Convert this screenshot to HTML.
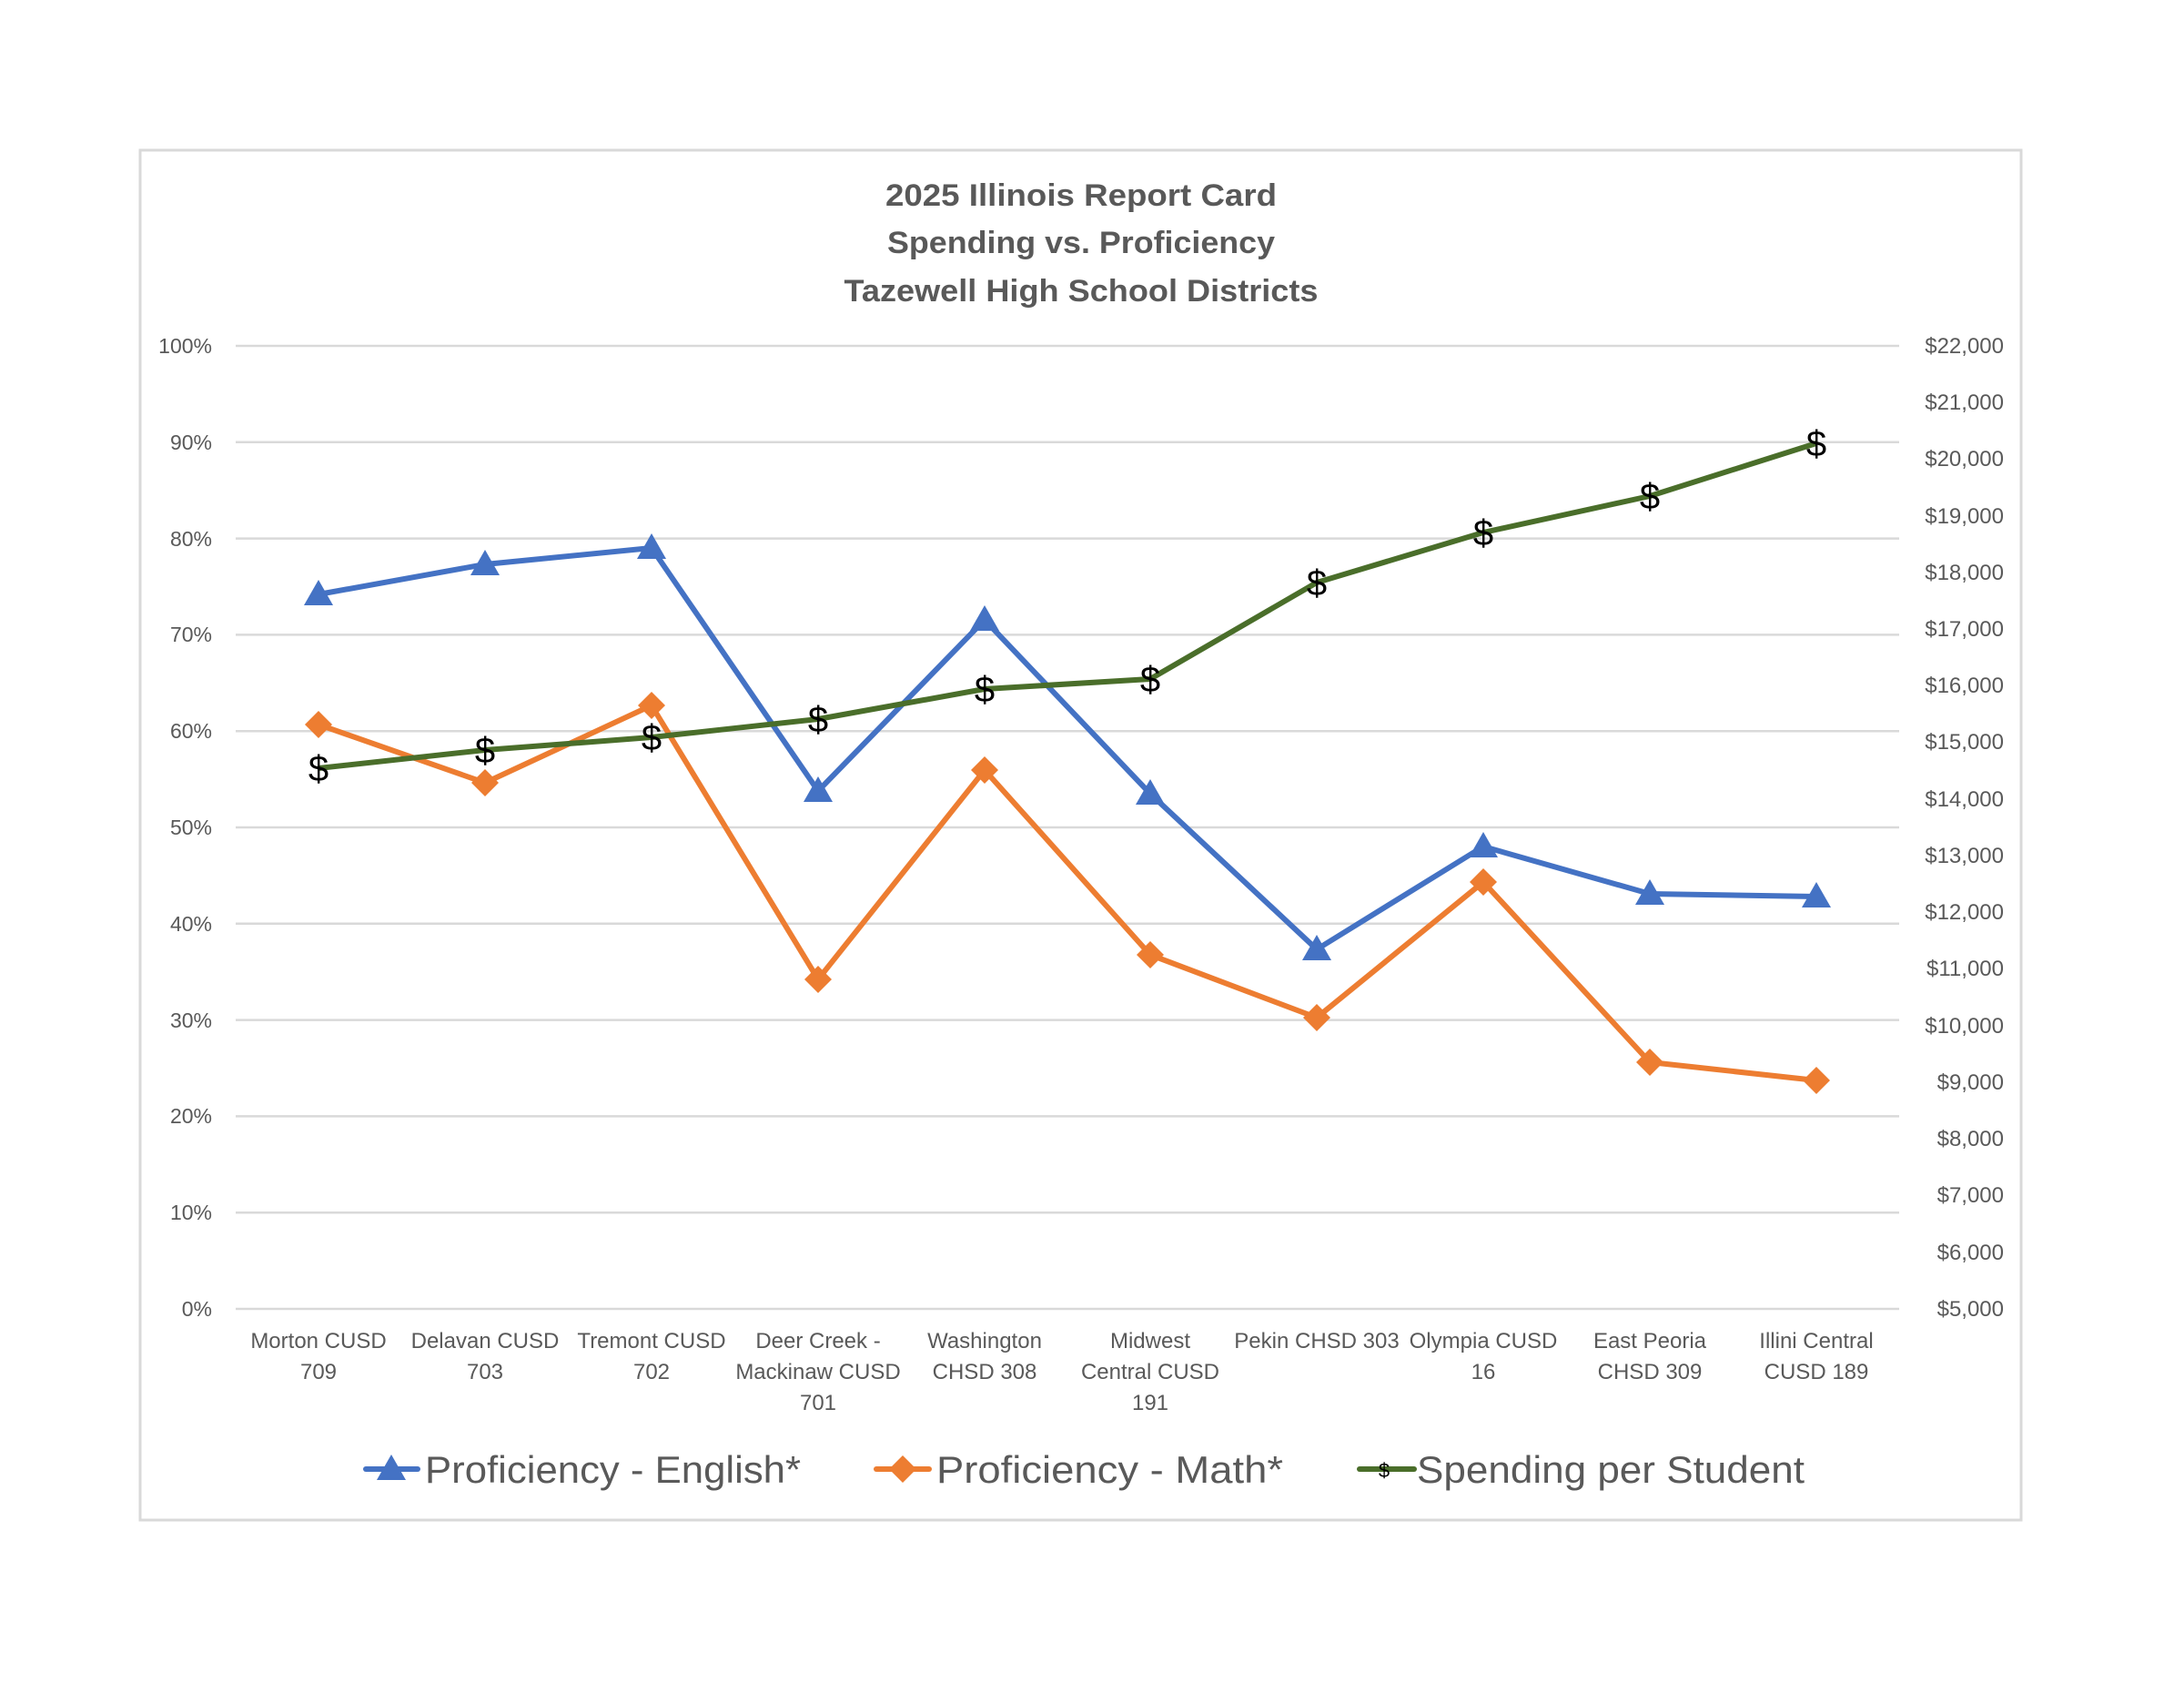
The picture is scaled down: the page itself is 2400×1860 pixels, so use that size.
<!DOCTYPE html>
<html><head><meta charset="utf-8"><style>html,body{margin:0;padding:0;background:#fff}</style></head>
<body>
<svg width="2400" height="1855" viewBox="0 0 2400 1855" xmlns="http://www.w3.org/2000/svg" font-family="'Liberation Sans', sans-serif">
<rect x="0" y="0" width="2400" height="1855" fill="#fff"/>
<rect x="154" y="165" width="2067" height="1505" fill="#fff" stroke="#d9d9d9" stroke-width="3"/>
<g fill="#595959" font-weight="bold" font-size="34" text-anchor="middle">
<text x="1188" y="226" textLength="430" lengthAdjust="spacingAndGlyphs">2025 Illinois Report Card</text>
<text x="1188" y="278" textLength="426" lengthAdjust="spacingAndGlyphs">Spending vs. Proficiency</text>
<text x="1188" y="331" textLength="521" lengthAdjust="spacingAndGlyphs">Tazewell High School Districts</text>
</g>
<g stroke="#d9d9d9" stroke-width="2.5">
<line x1="259" x2="2087" y1="380" y2="380"/><line x1="259" x2="2087" y1="485.8" y2="485.8"/>
<line x1="259" x2="2087" y1="591.6" y2="591.6"/><line x1="259" x2="2087" y1="697.4" y2="697.4"/>
<line x1="259" x2="2087" y1="803.2" y2="803.2"/><line x1="259" x2="2087" y1="909" y2="909"/>
<line x1="259" x2="2087" y1="1014.8" y2="1014.8"/><line x1="259" x2="2087" y1="1120.6" y2="1120.6"/>
<line x1="259" x2="2087" y1="1226.4" y2="1226.4"/><line x1="259" x2="2087" y1="1332.2" y2="1332.2"/>
<line x1="259" x2="2087" y1="1438" y2="1438"/>
</g>
<g fill="#595959" font-size="23" text-anchor="end">
<text x="233" y="388">100%</text><text x="233" y="494">90%</text><text x="233" y="600">80%</text>
<text x="233" y="705">70%</text><text x="233" y="811">60%</text><text x="233" y="917">50%</text>
<text x="233" y="1023">40%</text><text x="233" y="1129">30%</text><text x="233" y="1234">20%</text>
<text x="233" y="1340">10%</text><text x="233" y="1446">0%</text>
</g>
<g fill="#595959" font-size="24" text-anchor="end">
<text x="2202" y="388">$22,000</text><text x="2202" y="450">$21,000</text><text x="2202" y="512">$20,000</text>
<text x="2202" y="575">$19,000</text><text x="2202" y="637">$18,000</text><text x="2202" y="699">$17,000</text>
<text x="2202" y="761">$16,000</text><text x="2202" y="823">$15,000</text><text x="2202" y="886">$14,000</text>
<text x="2202" y="948">$13,000</text><text x="2202" y="1010">$12,000</text><text x="2202" y="1072">$11,000</text>
<text x="2202" y="1135">$10,000</text><text x="2202" y="1197">$9,000</text><text x="2202" y="1259">$8,000</text>
<text x="2202" y="1321">$7,000</text><text x="2202" y="1384">$6,000</text><text x="2202" y="1446">$5,000</text>
</g>
<g fill="#595959" font-size="24" text-anchor="middle">
<text x="350" y="1481">Morton CUSD</text><text x="350" y="1515">709</text>
<text x="533" y="1481">Delavan CUSD</text><text x="533" y="1515">703</text>
<text x="716" y="1481">Tremont CUSD</text><text x="716" y="1515">702</text>
<text x="899" y="1481">Deer Creek -</text><text x="899" y="1515">Mackinaw CUSD</text><text x="899" y="1549">701</text>
<text x="1082" y="1481">Washington</text><text x="1082" y="1515">CHSD 308</text>
<text x="1264" y="1481">Midwest</text><text x="1264" y="1515">Central CUSD</text><text x="1264" y="1549">191</text>
<text x="1447" y="1481">Pekin CHSD 303</text>
<text x="1630" y="1481">Olympia CUSD</text><text x="1630" y="1515">16</text>
<text x="1813" y="1481">East Peoria</text><text x="1813" y="1515">CHSD 309</text>
<text x="1996" y="1481">Illini Central</text><text x="1996" y="1515">CUSD 189</text>
</g>
<!-- English -->
<polyline fill="none" stroke="#4472C4" stroke-width="6" stroke-linejoin="round"
points="350,653 533,620 716,602 899,869 1082,681 1264,872 1447,1043 1630,930 1813,982 1996,985"/>
<g fill="#4472C4">
<polygon points="350,637 366,665 334,665"/><polygon points="533,604 549,632 517,632"/>
<polygon points="716,586 732,614 700,614"/><polygon points="899,853 915,881 883,881"/>
<polygon points="1082,665 1098,693 1066,693"/><polygon points="1264,856 1280,884 1248,884"/>
<polygon points="1447,1027 1463,1055 1431,1055"/><polygon points="1630,914 1646,942 1614,942"/>
<polygon points="1813,966 1829,994 1797,994"/><polygon points="1996,969 2012,997 1980,997"/>
</g>
<!-- Math -->
<polyline fill="none" stroke="#ED7D31" stroke-width="6" stroke-linejoin="round"
points="350,796 533,860 716,775 899,1076 1082,846 1264,1049 1447,1118 1630,969 1813,1167 1996,1187"/>
<g fill="#ED7D31">
<polygon points="350,781 365,796 350,811 335,796"/><polygon points="533,845 548,860 533,875 518,860"/>
<polygon points="716,760 731,775 716,790 701,775"/><polygon points="899,1061 914,1076 899,1091 884,1076"/>
<polygon points="1082,831 1097,846 1082,861 1067,846"/><polygon points="1264,1034 1279,1049 1264,1064 1249,1049"/>
<polygon points="1447,1103 1462,1118 1447,1133 1432,1118"/><polygon points="1630,954 1645,969 1630,984 1615,969"/>
<polygon points="1813,1152 1828,1167 1813,1182 1798,1167"/><polygon points="1996,1172 2011,1187 1996,1202 1981,1187"/>
</g>
<!-- Spending -->
<polyline fill="none" stroke="#4A6E2A" stroke-width="6" stroke-linejoin="round"
points="350,844 533,824 716,810 899,790 1082,757 1264,746 1447,640 1630,585 1813,545 1996,487"/>
<g fill="#000" font-size="40" text-anchor="middle">
<text x="350" y="858">$</text><text x="533" y="838">$</text><text x="716" y="824">$</text>
<text x="899" y="804">$</text><text x="1082" y="771">$</text><text x="1264" y="760">$</text>
<text x="1447" y="654">$</text><text x="1630" y="599">$</text><text x="1813" y="559">$</text>
<text x="1996" y="501">$</text>
</g>
<!-- Legend -->
<line x1="402" x2="459" y1="1614" y2="1614" stroke="#4472C4" stroke-width="6" stroke-linecap="round"/>
<polygon points="430,1598 446,1626 414,1626" fill="#4472C4"/>
<text x="467" y="1629" font-size="42" fill="#595959" textLength="413" lengthAdjust="spacingAndGlyphs">Proficiency - English*</text>
<line x1="963" x2="1021" y1="1614" y2="1614" stroke="#ED7D31" stroke-width="6" stroke-linecap="round"/>
<polygon points="992,1599 1007,1614 992,1629 977,1614" fill="#ED7D31"/>
<text x="1029" y="1629" font-size="42" fill="#595959" textLength="381" lengthAdjust="spacingAndGlyphs">Proficiency - Math*</text>
<line x1="1494" x2="1554" y1="1614" y2="1614" stroke="#4A6E2A" stroke-width="6" stroke-linecap="round"/>
<text x="1521" y="1623" font-size="22" text-anchor="middle" fill="#000">$</text>
<text x="1557" y="1629" font-size="42" fill="#595959" textLength="426" lengthAdjust="spacingAndGlyphs">Spending per Student</text>
</svg>
</body></html>
